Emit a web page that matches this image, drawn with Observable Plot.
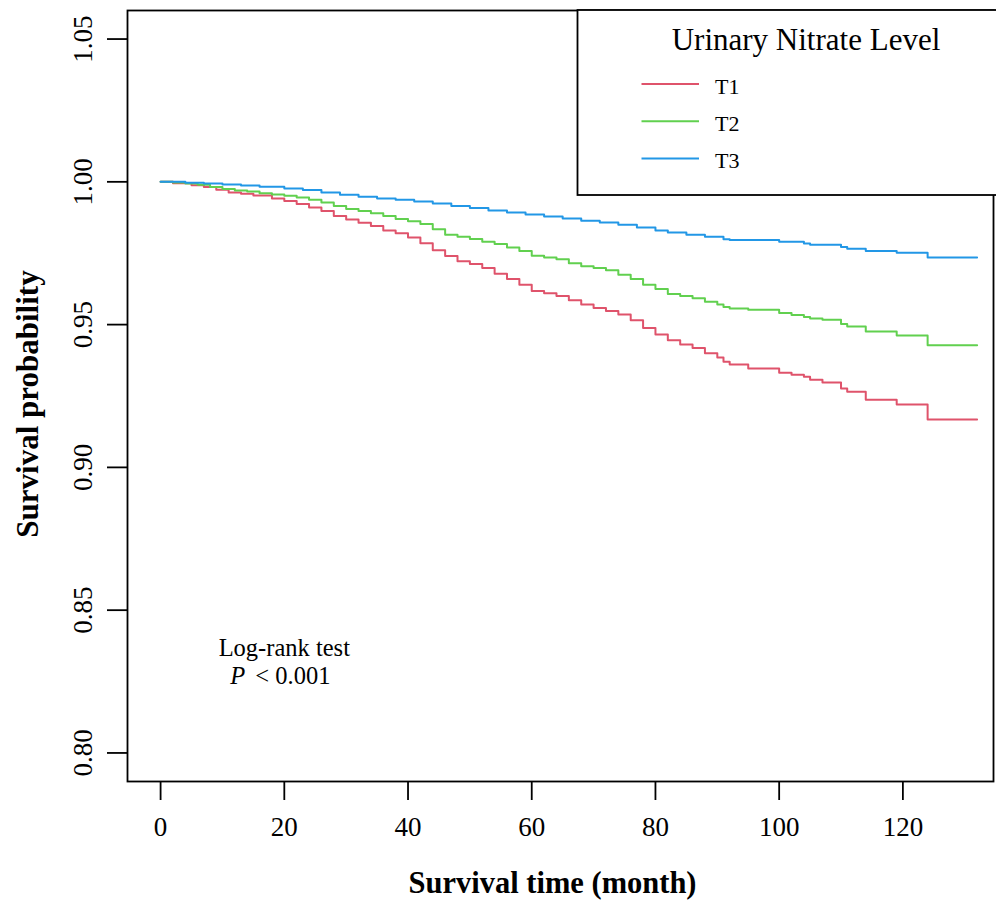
<!DOCTYPE html>
<html>
<head>
<meta charset="utf-8">
<script src="https://cdn.jsdelivr.net/npm/d3@7"></script>
<script src="https://cdn.jsdelivr.net/npm/@observablehq/plot@0.6"></script>
<style>
  html, body { margin: 0; padding: 0; background: #fff; }
  #chart { width: 996px; height: 900px; }
  svg { font-family: "Liberation Serif", "Times New Roman", serif; }
</style>
</head>
<body>
<div id="chart"></div>
<script>
// ---- Data ----
const groups = ["T1", "T2", "T3"];
const groupColors = ["#DF536B", "#61D04F", "#2297E6"];

const t1Time = [0, 2, 5, 7, 9, 11, 13, 15, 18, 20, 22, 24, 26, 28, 30, 32, 34, 36, 38, 40, 42, 44, 46, 48, 50, 52, 54, 56, 58, 60, 62, 64, 66, 68, 70, 72, 74, 76, 78, 80, 82, 84, 86, 88, 90, 91, 92, 95, 100, 102, 104, 105, 107, 110, 111, 114, 119, 124, 132];
const t1Surv = [1.0, 0.9995, 0.9988, 0.9982, 0.9972, 0.9963, 0.9958, 0.9952, 0.9942, 0.9933, 0.9922, 0.9910, 0.9898, 0.9880, 0.9868, 0.9857, 0.9845, 0.9830, 0.9820, 0.9805, 0.9785, 0.9760, 0.9740, 0.9722, 0.9712, 0.9698, 0.9678, 0.9660, 0.9640, 0.9618, 0.9610, 0.9600, 0.9585, 0.9570, 0.9558, 0.9548, 0.9535, 0.9515, 0.9488, 0.9465, 0.9445, 0.9430, 0.9418, 0.9400, 0.9385, 0.9370, 0.9360, 0.9346, 0.9331, 0.9324, 0.9317, 0.9307, 0.9297, 0.9276, 0.9265, 0.9237, 0.9220, 0.9168, 0.9168];

const t2Time = [0, 2, 4, 6, 8, 10, 12, 14, 16, 18, 20, 22, 24, 26, 28, 30, 32, 34, 36, 38, 40, 42, 44, 46, 48, 50, 52, 54, 56, 58, 60, 62, 64, 66, 68, 70, 72, 74, 76, 78, 80, 82, 84, 86, 88, 90, 91, 92, 95, 100, 102, 104, 105, 107, 110, 111, 114, 119, 124, 132];
const t2Surv = [1.0, 0.9998, 0.9994, 0.9990, 0.9982, 0.9975, 0.9970, 0.9966, 0.9960, 0.9956, 0.9951, 0.9945, 0.9937, 0.9928, 0.9915, 0.9905, 0.9898, 0.9890, 0.9880, 0.9870, 0.9862, 0.9852, 0.9834, 0.9815, 0.9808, 0.9800, 0.9790, 0.9782, 0.9770, 0.9758, 0.9741, 0.9735, 0.9729, 0.9715, 0.9704, 0.9698, 0.9690, 0.9675, 0.9660, 0.9640, 0.9625, 0.9607, 0.9600, 0.9592, 0.9580, 0.9570, 0.9562, 0.9556, 0.9552, 0.9541, 0.9534, 0.9527, 0.9521, 0.9517, 0.9502, 0.9493, 0.9476, 0.9462, 0.9428, 0.9428];

const t3Time = [0, 4, 7, 10, 13, 16, 20, 23, 26, 29, 32, 35, 38, 41, 44, 47, 50, 53, 56, 59, 62, 65, 68, 71, 74, 77, 80, 82, 85, 88, 91, 92, 100, 104, 105, 110, 111, 114, 119, 124, 132];
const t3Surv = [1.0, 0.9997, 0.9994, 0.9991, 0.9987, 0.9983, 0.9977, 0.9971, 0.9963, 0.9955, 0.9948, 0.9942, 0.9937, 0.9931, 0.9924, 0.9915, 0.9908, 0.9900, 0.9893, 0.9886, 0.9879, 0.9872, 0.9864, 0.9858, 0.9850, 0.9840, 0.9830, 0.9823, 0.9815, 0.9808, 0.9799, 0.9796, 0.9790, 0.9784, 0.9780, 0.9772, 0.9766, 0.9758, 0.9752, 0.9735, 0.9735];

const xTicks = [0, 20, 40, 60, 80, 100, 120];
const yTicks = [0.80, 0.85, 0.90, 0.95, 1.00, 1.05];

const legendTitle = "Urinary Nitrate Level";
const xTitle = "Survival time (month)";
const yTitle = "Survival probability";
const testLabel = "Log-rank test";
const pLabel = "P";
const pValue = "< 0.001";

// ---- Build table ----
const series = [
  {g: groups[0], t: t1Time, s: t1Surv},
  {g: groups[1], t: t2Time, s: t2Surv},
  {g: groups[2], t: t3Time, s: t3Surv}
];
const rows = series.flatMap(({g, t, s}) => t.map((ti, i) => ({group: g, time: ti, surv: s[i]})));

const fmtY = d3.format(".2f");
const serif = "Liberation Serif";

const chart = Plot.plot({
  width: 996,
  height: 900,
  marginLeft: 127,
  marginRight: 3,
  marginTop: 10,
  marginBottom: 119,
  style: {fontFamily: serif, background: "#fff", color: "#000"},
  x: {domain: [-5.35, 134.65], axis: null, label: null},
  y: {domain: [0.79, 1.06], axis: null, label: null},
  color: {domain: groups, range: groupColors},
  marks: [
    // y ticks
    Plot.axisY(yTicks, {tickSize: 20, tickFormat: () => "", label: null, strokeWidth: 1.8, stroke: "#000"}),
    // x ticks
    Plot.axisX(xTicks, {tickSize: 19, tickFormat: () => "", label: null, strokeWidth: 1.8, stroke: "#000"}),
    // y tick labels (rotated)
    Plot.text(yTicks, {y: d => d, text: d => fmtY(d), frameAnchor: "left", dx: -44, rotate: -90,
      textAnchor: "middle", lineAnchor: "middle", fontSize: 27, fill: "#000"}),
    // x tick labels
    Plot.text(xTicks, {x: d => d, text: d => String(d), frameAnchor: "bottom", dy: 46,
      lineAnchor: "middle", fontSize: 27, fill: "#000"}),
    // survival curves
    Plot.line(rows, {x: "time", y: "surv", z: "group", stroke: "group", curve: "step-after", strokeWidth: 2}),
    // annotation
    Plot.text([testLabel], {x: () => 20, y: () => 0.8367, text: d => d, fontSize: 24.5, lineAnchor: "middle", fill: "#000"}),
    Plot.text([pLabel], {x: () => 20, y: () => 0.8270, text: d => d, fontSize: 24.5, fontStyle: "italic", textAnchor: "end", dx: -39, lineAnchor: "middle", fill: "#000"}),
    Plot.text([pValue], {x: () => 20, y: () => 0.8270, text: d => d, fontSize: 24.5, textAnchor: "start", dx: -29, lineAnchor: "middle", fill: "#000"}),
    // axis titles
    Plot.text([xTitle], {frameAnchor: "bottom", text: d => d, dx: -8, dy: 102, fontSize: 30.5, fontWeight: "bold", lineAnchor: "middle", fill: "#000"}),
    Plot.text([yTitle], {frameAnchor: "left", text: d => d, dx: -99, dy: 8, rotate: -90, fontSize: 31, fontWeight: "bold", lineAnchor: "middle", textAnchor: "middle", fill: "#000"}),
    Plot.frame({stroke: "#000", strokeWidth: 1.8})
  ]
});

document.getElementById("chart").appendChild(chart);

// ---- Legend drawn inside the SVG (top-right box) ----
const svg = d3.select(chart);
const lg = svg.append("g").attr("font-family", serif);
lg.append("rect").attr("x", 577.5).attr("y", 10).attr("width", 440).attr("height", 185)
  .attr("fill", "#fff").attr("stroke", "#000").attr("stroke-width", 1.8);
lg.append("text").attr("x", 806).attr("y", 50).attr("text-anchor", "middle")
  .attr("font-size", 31).attr("fill", "#000").text(legendTitle);
groups.forEach((g, i) => {
  const y = 84 + i * 37.2;
  lg.append("line").attr("x1", 641.5).attr("x2", 699).attr("y1", y).attr("y2", y)
    .attr("stroke", groupColors[i]).attr("stroke-width", 2);
  lg.append("text").attr("x", 715).attr("y", y + 9.5).attr("text-anchor", "start")
    .attr("font-size", 22).attr("fill", "#000").text(g);
});
</script>
</body>
</html>
